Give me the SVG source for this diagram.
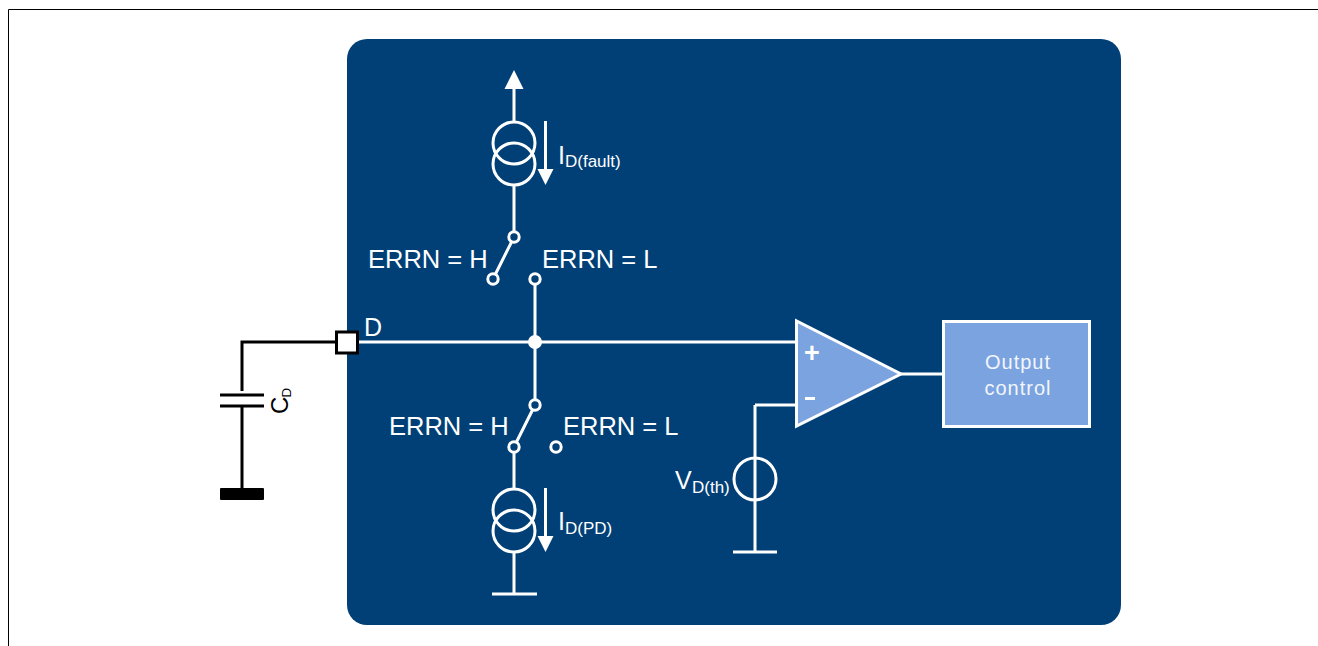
<svg xmlns="http://www.w3.org/2000/svg" width="1318" height="646" viewBox="0 0 1318 646">
<style>
text{font-family:"Liberation Sans",Arial,sans-serif;fill:#fff}
.w{fill:none;stroke:#fff;stroke-width:3}
.b{fill:none;stroke:#000;stroke-width:3}
.o{fill:#004077;stroke:#fff;stroke-width:3}
.ah{fill:#fff}
.l{font-size:25.500px}
.s{font-size:17px}
.m{font-size:25px}
</style>
<rect width="1318" height="646" fill="#fff"/>
<path d="M8.500 646V9.500H1318" fill="none" stroke="#000" stroke-width="1"/>
<rect id="chip" x="347" y="39" width="774" height="586" rx="20" fill="#004077"/>
<g id="connectors">
<path class="w" d="M358 342H796M535 285V400M514 76V122M514 186V232M511.500 242L495.500 274M514 453V489M514 552V594M492 594H537M532.500 410L516.500 442M755 405H796M755 405V552M733 552H777M901 374H943"/>
<path class="w" d="M545.500 121V172M545.500 488V538"/>
<path class="b" d="M336 342H242V391M242 407V490M220 395H264M220 406H264"/>
</g>
<g id="arrow-out"><polygon class="ah" points="514,70 504.500,89 523.500,89"/></g>
<g id="source-fault">
<circle class="w" cx="514" cy="143" r="21"/><circle class="w" cx="514" cy="164" r="21"/>
<polygon class="ah" points="545.500,185 537.500,169 553.500,169"/>
<text class="m" x="558" y="164">I</text><text class="s" x="565" y="167">D(fault)</text>
</g>
<g id="switch-top">
<circle class="o" cx="514" cy="237" r="5.200"/><circle class="o" cx="493" cy="279" r="5.200"/><circle class="o" cx="535" cy="279" r="5.200"/>
<text class="l" x="368" y="268">ERRN = H</text><text class="l" x="542" y="268">ERRN = L</text>
</g>
<g id="junction"><circle cx="535" cy="342" r="7" fill="#fff"/></g>
<g id="switch-bottom">
<circle class="o" cx="535" cy="405" r="5.200"/><circle class="o" cx="514" cy="447" r="5.200"/><circle class="o" cx="556" cy="447" r="5.200"/>
<text class="l" x="389" y="435">ERRN = H</text><text class="l" x="563" y="435">ERRN = L</text>
</g>
<g id="source-pd">
<circle class="w" cx="514" cy="510" r="21"/><circle class="w" cx="514" cy="531" r="21"/>
<polygon class="ah" points="545.500,552 537.500,536 553.500,536"/>
<text class="m" x="558" y="530">I</text><text class="s" x="565" y="534">D(PD)</text>
</g>
<g id="pin-d">
<rect x="336.500" y="332" width="21" height="21" fill="#fff" stroke="#000" stroke-width="3"/>
<text class="m" x="364" y="336">D</text>
</g>
<g id="capacitor">
<rect x="220" y="488" width="44" height="12" rx="1" fill="#000"/>
<g transform="translate(287.500,414) rotate(-90)"><text style="fill:#000" font-size="24" x="0" y="0">C</text><text style="fill:#000" font-size="13.500" x="16.500" y="3">D</text></g>
</g>
<g id="comparator">
<polygon points="796.500,321 796.500,426 901,374" fill="#7ba3e0" stroke="#fff" stroke-width="3"/>
<text x="804" y="362" font-size="27" font-weight="bold">+</text>
<rect x="805" y="397" width="10" height="3" fill="#fff"/>
</g>
<g id="vth">
<circle class="w" cx="755" cy="479" r="21"/>
<text class="m" x="675" y="489">V</text><text class="s" x="692" y="493">D(th)</text>
</g>
<g id="output-control">
<rect x="943.500" y="321.500" width="146" height="105" fill="#7ba3e0" stroke="#fff" stroke-width="3"/>
<text x="1018" y="369" font-size="20" text-anchor="middle" style="letter-spacing:1px;fill:#f2f6fc">Output</text>
<text x="1018" y="395" font-size="20" text-anchor="middle" style="letter-spacing:1px;fill:#f2f6fc">control</text>
</g>
</svg>
